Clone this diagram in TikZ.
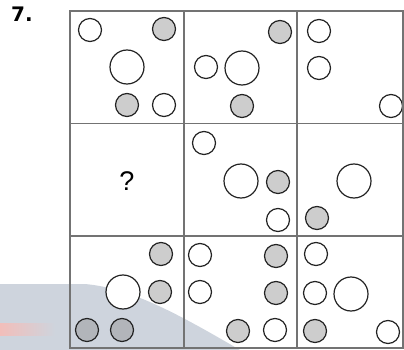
\documentclass[tikz,border=0pt]{standalone}
\usepackage{fontspec}
\setmainfont{Liberation Sans}
\newfontfamily\heavyfont{DejaVu Sans}
\definecolor{gridc}{RGB}{115,115,115}
\definecolor{ringc}{RGB}{35,35,35}
\definecolor{fillg}{RGB}{205,205,205}
\definecolor{fillgd}{RGB}{178,181,186}
\definecolor{bandc}{RGB}{206,212,221}
\definecolor{pinkc}{RGB}{242,190,186}
\tikzset{
  sw/.style={circle,draw=ringc,line width=1.2pt,fill=white,minimum size=23pt,inner sep=0pt},
  sg/.style={sw,fill=fillg},
  sgd/.style={sw,fill=fillgd},
  bw/.style={sw,minimum size=34pt},
  gridline/.style={draw=gridc,line width=1.3pt},
}
\begin{document}
\begin{tikzpicture}[x=1pt,y=-1pt]
\useasboundingbox (0,0) rectangle (404,350);
% watermark band
\fill[bandc] (0,284) -- (85,284) .. controls (130,288) and (175,312) .. (240,350) -- (0,350) -- cycle;
\shade[left color=pinkc,right color=bandc] (0,323) rectangle (55,335);
% label
\node[font=\heavyfont\fontsize{20}{20}\selectfont\bfseries,anchor=north west,inner sep=0pt] (num) at (11,7) {7.};
% circles row 1
\node[sw] (a1) at (90,30) {};
\node[sg] (a2) at (164,29) {};
\node[bw] (a3) at (127,67) {};
\node[sg] (a4) at (127,105) {};
\node[sw] (a5) at (164,105) {};
\node[sg] (b1) at (280,32) {};
\node[sw] (b2) at (206,67) {};
\node[bw] (b3) at (242,68) {};
\node[sg] (b4) at (242,106) {};
\node[sw] (c1) at (319,31) {};
\node[sw] (c2) at (319,68) {};
\node[sw] (c3) at (391,106) {};
% row 2
\node[font=\fontsize{27}{27}\selectfont] (q) at (127,181) {?};
\node[sw] (e1) at (204,143) {};
\node[bw] (e2) at (241,181) {};
\node[sg] (e3) at (278,182) {};
\node[sw] (e4) at (278,220) {};
\node[bw] (f1) at (354,181) {};
\node[sg] (f2) at (317,218) {};
% row 3
\node[sg] (g1) at (161,254) {};
\node[bw] (g2) at (123,292) {};
\node[sg] (g3) at (160,292) {};
\node[sgd] (g4) at (87,330) {};
\node[sgd] (g5) at (122,330) {};
\node[sw] (h1) at (200,255) {};
\node[sg] (h2) at (276,256) {};
\node[sw] (h3) at (200,292) {};
\node[sg] (h4) at (276,293) {};
\node[sg] (h5) at (238,331) {};
\node[sw] (h6) at (275,330) {};
\node[sw] (i1) at (316,254) {};
\node[sw] (i2) at (315,293) {};
\node[bw] (i3) at (351,294) {};
\node[sg] (i4) at (315,331) {};
\node[sw] (i5) at (388,332) {};
% grid
\draw[gridline] (70,11) rectangle (403,348);
\draw[gridline] (184,11) -- (184,348);
\draw[gridline] (297,11) -- (297,348);
\draw[gridline] (70,123.5) -- (403,123.5);
\draw[gridline] (70,236) -- (403,236);
\end{tikzpicture}
\end{document}
